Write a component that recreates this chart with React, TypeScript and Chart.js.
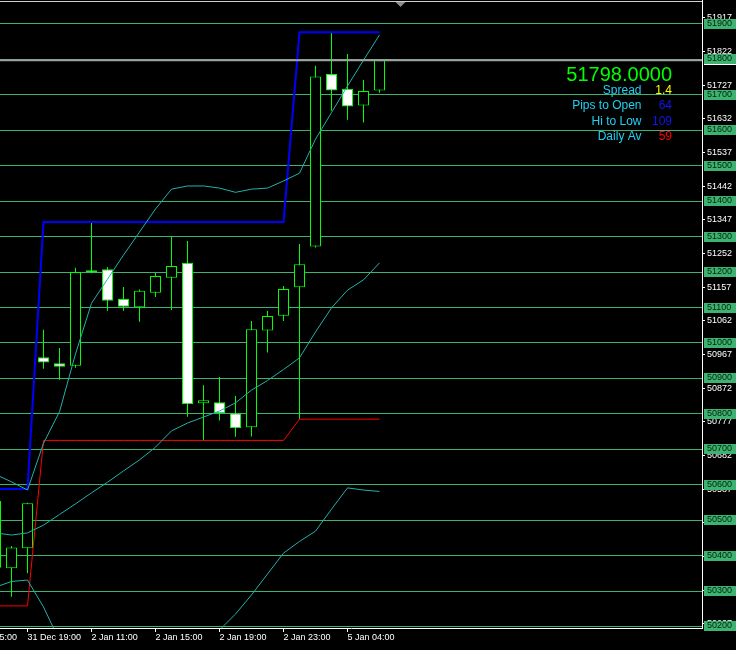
import React, { useEffect, useRef } from 'react';
import { Chart, registerables } from 'chart.js';

Chart.register(...registerables);

// ---- data ----
const candleIndex = [-2, -1, 0, 1, 2, 3, 4, 5, 6, 7, 8, 9, 10, 11, 12, 13, 14, 15, 16, 17, 18, 19, 20, 21, 22];
const opens = [50554, 50364, 50421, 50960, 50943, 50936, 51205, 51208, 51124, 51101, 51142, 51184, 51226, 50830, 50833, 50802, 50762, 51035, 51077, 51157, 51272, 51759, 51717, 51670, 51712];
const highs = [50570, 50427, 50549, 51037, 50986, 51212, 51341, 51214, 51158, 51151, 51198, 51300, 51288, 50881, 50904, 50850, 51062, 51090, 51161, 51279, 51782, 51877, 51815, 51742, 51798];
const lows = [50330, 50284, 50350, 50927, 50896, 50930, 51197, 51091, 51091, 51060, 51130, 51093, 50792, 50724, 50781, 50735, 50736, 50973, 51062, 50785, 51269, 51655, 51630, 51622, 51706];
const closes = [50366, 50423, 50548, 50945, 50933, 51200, 51199, 51119, 51102, 51147, 51189, 51217, 50827, 50838, 50802, 50759, 51039, 51076, 51152, 51222, 51752, 51712, 51667, 51711, 51798];

const dayHigh = [50588, 50588, 50588, 51341, 51341, 51341, 51341, 51341, 51341, 51341, 51341, 51341, 51341, 51341, 51341, 51341, 51341, 51341, 51341, 51877, 51877, 51877, 51877, 51877, 51877];
const dayLow = [50258, 50258, 50258, 50725, 50725, 50725, 50725, 50725, 50725, 50725, 50725, 50725, 50725, 50725, 50725, 50725, 50725, 50725, 50725, 50785, 50785, 50785, 50785, 50785, 50785];

const bandUpper = [50629, 50608, 50585, 50717, 50806, 50969, 51112, 51180, 51248, 51313, 51378, 51434, 51443, 51443, 51437, 51425, 51434, 51437, 51457, 51479, 51575, 51650, 51725, 51798, 51869];
const bandMiddle = [50464, 50458, 50464, 50486, 50516, 50546, 50577, 50607, 50639, 50670, 50706, 50752, 50774, 50791, 50808, 50831, 50867, 50894, 50925, 50958, 51031, 51099, 51149, 51178, 51226];
const bandLower = [50311, 50327, 50331, 50255, 50160, 50120, 50045, 50035, 50030, 50030, 50035, 50070, 50105, 50140, 50190, 50235, 50289, 50348, 50407, 50440, 50469, 50531, 50591, 50585, 50581];

const timeTickIndex = [-4, 0, 4, 8, 12, 16, 20];
const timeTickLabels = ['31 Dec 15:00', '31 Dec 19:00', '2 Jan 11:00', '2 Jan 15:00', '2 Jan 19:00', '2 Jan 23:00', '5 Jan 04:00'];

const priceTicks = [51917, 51822, 51727, 51632, 51537, 51442, 51347, 51252, 51157, 51062, 50967, 50872, 50777, 50682, 50587, 50492, 50397, 50302, 50207];
const levelLines = [51900, 51800, 51700, 51600, 51500, 51400, 51300, 51200, 51100, 51000, 50900, 50800, 50700, 50600, 50500, 50400, 50300, 50200];

const bidPrice = 51798;
const bidText = '51798.0000';
const infoLabels = ['Spread', 'Pips to Open', 'Hi to Low', 'Daily Av'];
const infoValues = ['1.4', '64', '109', '59'];
const infoValueColors = ['#FFFF00', '#1414F0', '#1414F0', '#FF0000'];

// ---- axis setup ----
const X_MIN = -1.71875;
const X_MAX = 42.15625;
const Y_MIN = 50195.7;
const Y_MAX = 51967.7;

const FONT = '"Liberation Sans", Arial, sans-serif';
const LIME = '#00FF00';
const LEVEL_GREEN = '#3CB371';
const BAND = '#20B2AA';
const levelSet = new Set(levelLines);

const pts = (vals: number[]) => candleIndex.map((x, k) => ({ x, y: vals[k] }));

const overlay = {
  id: 'mtOverlay',
  beforeDraw(chart: any) {
    const { ctx, width, height } = chart;
    ctx.save();
    ctx.fillStyle = '#000';
    ctx.fillRect(0, 0, width, height);
    ctx.restore();
  },
  afterDraw(chart: any) {
    const { ctx, chartArea } = chart;
    const ys = chart.scales.y;
    const xs = chart.scales.x;
    ctx.save();
    // top border
    ctx.fillStyle = '#d0d0d0';
    ctx.fillRect(chartArea.left, 1, chartArea.right - chartArea.left, 1);
    // shift marker
    const mx = Math.round(xs.getPixelForValue(candleIndex[candleIndex.length - 1] + 1.25)) + 0.5;
    ctx.fillStyle = '#8c8c8c';
    ctx.beginPath();
    ctx.moveTo(mx - 5, 2);
    ctx.lineTo(mx + 5, 2);
    ctx.lineTo(mx, 7);
    ctx.closePath();
    ctx.fill();
    // bid label edge
    const by = Math.round(ys.getPixelForValue(bidPrice));
    ctx.fillStyle = '#ffffff';
    ctx.fillRect(ys.left + 2, by + 4, chart.width - ys.left - 2, 1);
    // level labels
    ctx.font = `9px ${FONT}`;
    ctx.textBaseline = 'middle';
    ctx.textAlign = 'left';
    for (const lv of levelLines) {
      const py = Math.round(ys.getPixelForValue(lv));
      ctx.fillStyle = LEVEL_GREEN;
      ctx.fillRect(ys.left + 2, py - 5, chart.width - ys.left - 2, 10);
      ctx.fillStyle = '#06200e';
      ctx.fillText(String(lv), ys.left + 5, py);
    }
    // info block
    const rightVal = chartArea.right - 30;
    const rightLbl = chartArea.right - 60.5;
    ctx.textBaseline = 'alphabetic';
    ctx.textAlign = 'right';
    ctx.font = `20px ${FONT}`;
    ctx.fillStyle = LIME;
    ctx.fillText(bidText, rightVal, 81);
    ctx.font = `12px ${FONT}`;
    const baselines = [94, 109, 124.5, 139.5];
    infoLabels.forEach((lab, k) => {
      ctx.fillStyle = '#20D0F0';
      ctx.fillText(lab, rightLbl, baselines[k]);
      ctx.fillStyle = infoValueColors[k];
      ctx.fillText(infoValues[k], rightVal, baselines[k]);
    });
    ctx.restore();
  },
};

export default function App() {
  const ref = useRef<HTMLCanvasElement>(null);
  useEffect(() => {
    document.body.style.margin = '0';
    document.body.style.background = '#000';
    Chart.defaults.font.family = FONT;
    const cfg: any = {
      type: 'bar',
      data: {
        datasets: [
          {
            type: 'line', label: 'bid', order: 0,
            data: [{ x: X_MIN, y: bidPrice }, { x: X_MAX, y: bidPrice }],
            borderColor: '#a0a0a0', borderWidth: 2, pointRadius: 0,
          },
          { type: 'line', label: 'upper', order: 0, data: pts(bandUpper), borderColor: BAND, borderWidth: 1, pointRadius: 0, tension: 0 },
          { type: 'line', label: 'middle', order: 0, data: pts(bandMiddle), borderColor: BAND, borderWidth: 1, pointRadius: 0, tension: 0 },
          { type: 'line', label: 'lower', order: 0, data: pts(bandLower), borderColor: BAND, borderWidth: 1, pointRadius: 0, tension: 0 },
          { type: 'line', label: 'dayHigh', order: 0, data: pts(dayHigh), borderColor: '#0000FF', borderWidth: 2, pointRadius: 0, tension: 0 },
          { type: 'line', label: 'dayLow', order: 0, data: pts(dayLow), borderColor: '#FF0000', borderWidth: 1, pointRadius: 0, tension: 0 },
          {
            type: 'bar', label: 'body', order: 1,
            data: candleIndex.map((x, k) => ({ x, y: [opens[k], closes[k]] })),
            backgroundColor: candleIndex.map((_, k) => (closes[k] >= opens[k] ? '#000000' : '#FFFFFF')),
            borderColor: LIME, borderWidth: 1, borderSkipped: false,
            barThickness: 11, grouped: false, inflateAmount: 0,
          },
          {
            type: 'bar', label: 'wick', order: 2,
            data: candleIndex.map((x, k) => ({ x, y: [lows[k], highs[k]] })),
            backgroundColor: LIME, borderWidth: 0,
            barThickness: 1, grouped: false, inflateAmount: 0,
          },
        ],
      },
      options: {
        responsive: false,
        maintainAspectRatio: false,
        devicePixelRatio: 1,
        animation: false,
        events: [],
        layout: { padding: 0, autoPadding: false },
        plugins: { legend: { display: false }, tooltip: { enabled: false } },
        scales: {
          x: {
            type: 'linear', position: 'bottom', min: X_MIN, max: X_MAX, bounds: 'data', offset: false,
            afterBuildTicks: (s: any) => { s.ticks = timeTickIndex.map((v) => ({ value: v })); },
            afterFit: (s: any) => { s.height = 22; s.paddingLeft = 0; s.paddingRight = 0; },
            ticks: {
              autoSkip: false, maxRotation: 0, minRotation: 0, align: 'start',
              color: '#ffffff', font: { size: 9, family: FONT }, padding: 0,
              callback: (_v: any, idx: number) => timeTickLabels[idx] ?? '',
            },
            grid: { offset: false, drawOnChartArea: false, drawTicks: true, tickLength: 4, tickColor: '#ffffff', color: '#ffffff' },
            border: { display: true, color: '#ffffff', width: 1 },
          },
          y: {
            type: 'linear', position: 'right', min: Y_MIN, max: Y_MAX, bounds: 'data',
            afterBuildTicks: (s: any) => {
              s.ticks = [...priceTicks, ...levelLines].sort((a, b) => a - b).map((v) => ({ value: v }));
            },
            afterFit: (s: any) => { s.width = 34; s.paddingTop = 0; s.paddingBottom = 0; },
            ticks: {
              autoSkip: false, color: '#ffffff', font: { size: 9, family: FONT }, padding: 2, crossAlign: 'near',
              callback: (v: any) => (levelSet.has(v) ? '' : String(v)),
            },
            grid: {
              drawOnChartArea: true, drawTicks: true, tickLength: 3, lineWidth: 1,
              color: (c: any) => (c.tick && levelSet.has(c.tick.value) ? LEVEL_GREEN : 'rgba(0,0,0,0)'),
              tickColor: (c: any) => (c.tick && levelSet.has(c.tick.value) ? 'rgba(0,0,0,0)' : '#ffffff'),
            },
            border: { display: true, color: '#ffffff', width: 1 },
          },
        },
      },
      plugins: [overlay],
    };
    const chart = new Chart(ref.current as HTMLCanvasElement, cfg);
    return () => chart.destroy();
  }, []);
  return (
    <div style={{ width: 736, height: 650 }}>
      <canvas ref={ref} width={736} height={650} style={{ display: 'block', width: 736, height: 650 }} />
    </div>
  );
}
